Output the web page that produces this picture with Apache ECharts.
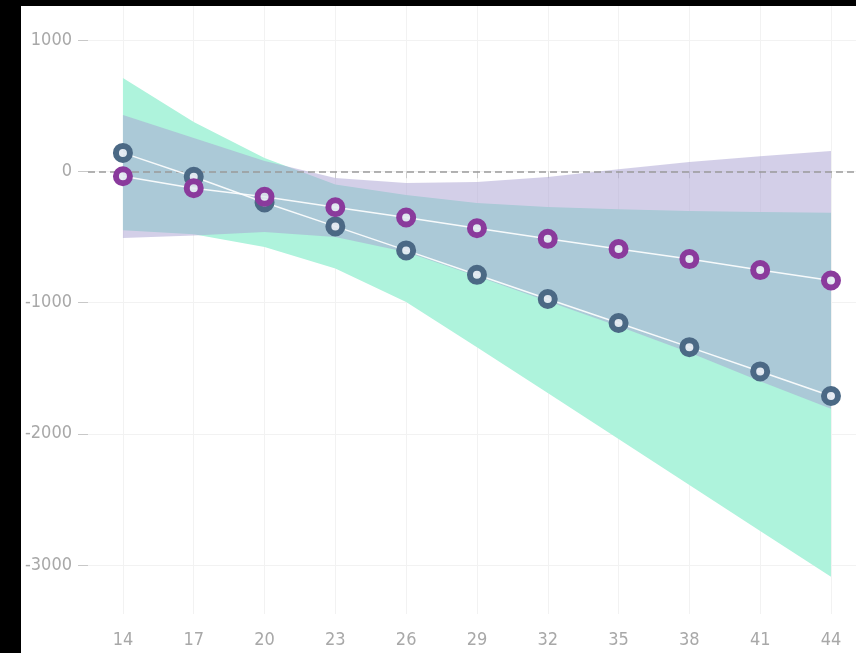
<!DOCTYPE html>
<html>
<head>
<meta charset="utf-8">
<script src="https://cdn.jsdelivr.net/npm/echarts@6/dist/echarts.min.js"></script>
<style>
  html, body { margin: 0; padding: 0; background: #000; width: 856px; height: 653px; overflow: hidden; }
  #chart { position: absolute; left: 21px; top: 6px; width: 835px; height: 647px; background: #fff; }
</style>
</head>
<body>
<div id="chart"></div>
<script>
// ---- data ----
const xs = [14, 17, 20, 23, 26, 29, 32, 35, 38, 41, 44];
const yTicks = [-3000, -2000, -1000, 0, 1000];

const darkMean  = [140, -42, -238, -420, -603, -789, -973, -1156, -1340, -1525, -1712];
const darkUpper = [711, 375, 101, -100, -181, -242, -272, -289, -303, -311, -317];
const darkLower = [-449, -480, -577, -740, -996, -1340, -1690, -2040, -2390, -2740, -3090];

const purpleMean  = [-38, -129, -195, -274, -352, -434, -515, -592, -669, -753, -832];
const purpleUpper = [428, 254, 78, -52, -89, -82, -44, 15, 70, 115, 155];
const purpleLower = [-509, -490, -463, -500, -615, -800, -990, -1180, -1380, -1600, -1810];

// ---- chart ----
const FONT = "'Liberation Sans Narrow', 'DejaVu Sans Condensed', 'Roboto Condensed', sans-serif";
const chart = echarts.init(document.getElementById('chart'), null, { renderer: 'canvas' });

function band(upper, lower, fill, z) {
  return {
    type: 'custom',
    silent: true,
    z: z,
    clip: true,
    data: xs.map((x, i) => [x, upper[i]]),
    renderItem: function (params, api) {
      if (params.dataIndex !== 0) return;
      const pts = [];
      for (let i = 0; i < xs.length; i++) pts.push(api.coord([xs[i], upper[i]]));
      for (let i = xs.length - 1; i >= 0; i--) pts.push(api.coord([xs[i], lower[i]]));
      return { type: 'polygon', shape: { points: pts }, style: { fill: fill } };
    }
  };
}

function pointsLine(mean, ring, z) {
  return {
    type: 'line',
    z: z,
    data: xs.map((x, i) => [x, mean[i]]),
    symbol: 'circle',
    symbolSize: 14,
    showSymbol: true,
    itemStyle: { color: 'rgba(228,234,242,0.9)', borderColor: ring, borderWidth: 6 },
    lineStyle: { color: 'rgba(255,255,255,0.9)', width: 1.5 },
    emphasis: { disabled: true },
    animation: false
  };
}

const plain = v => String(v);

const option = {
  backgroundColor: '#fff',
  animation: false,
  grid: { left: 67, right: 0, top: 0, bottom: 39, containLabel: false, outerBoundsMode: 'none' },
  xAxis: {
    type: 'value',
    min: 12.52,
    max: 45.06,
    offset: 3,
    axisLine: { show: false },
    axisTick: { show: true, length: 7, customValues: xs, lineStyle: { color: '#cccccc', width: 1 } },
    axisLabel: { customValues: xs, formatter: plain, color: '#a8a8a8', fontSize: 18, fontFamily: FONT, margin: 14 },
    splitLine: { show: true, lineStyle: { color: '#f2f2f2', width: 1 } }
  },
  yAxis: {
    type: 'value',
    min: -3373,
    max: 1259,
    axisLine: { show: false },
    axisTick: { show: true, length: 10, customValues: yTicks, lineStyle: { color: '#c8c8c8', width: 1 } },
    axisLabel: { customValues: yTicks, formatter: plain, color: '#a8a8a8', fontSize: 18, fontFamily: FONT, margin: 16 },
    splitLine: { show: true, lineStyle: { color: '#f2f2f2', width: 1 } }
  },
  series: [
    band(darkUpper, darkLower, '#aef3dc', 1),
    band(purpleUpper, purpleLower, 'rgba(168,160,210,0.5)', 2),
    Object.assign(pointsLine(darkMean, '#4b6985', 5), {
      markLine: {
        silent: true,
        symbol: 'none',
        label: { show: false },
        lineStyle: { color: '#9a9a9a', type: [7, 4], width: 1.5 },
        data: [{ yAxis: 0 }]
      }
    }),
    pointsLine(purpleMean, '#8a3a9c', 6)
  ]
};
chart.setOption(option);
</script>
</body>
</html>
